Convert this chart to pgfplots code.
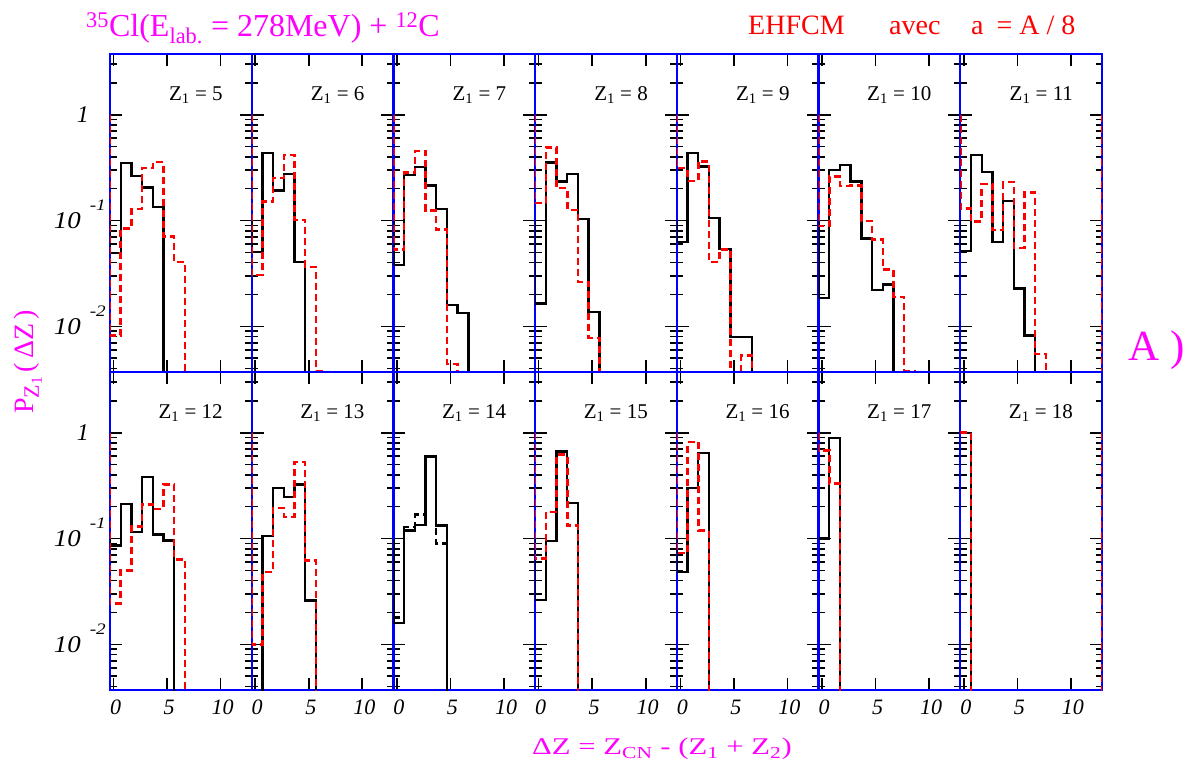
\documentclass[border=0pt]{standalone}
\usepackage{fontspec}
\setmainfont{Liberation Serif}
\usepackage{pgfplots}
\pgfplotsset{compat=1.18}
\definecolor{mag}{RGB}{255,0,255}
\definecolor{rd}{RGB}{255,0,0}
\definecolor{bl}{RGB}{0,0,255}
\newcommand\tf{\fontsize{21}{21}\selectfont}
\newcommand\lf{\fontsize{24}{24}\selectfont}
\newcommand\ex[1]{\makebox[53pt][r]{\scalebox{1.12}[1]{\textit{10}}\hspace{9pt}\raisebox{18pt}{\fontsize{16}{16}\selectfont\scalebox{1.2}[1]{\textit{#1}}}}}
\newcommand\one{\makebox[53pt][l]{\hspace{24pt}\textit{1}}}
\pgfplotsset{
  mypanel/.style={
    scale only axis, width=141.714pt, height=318pt,
    anchor=south west,
    xmin=-0.33, xmax=12.91, ymin=0.0037, ymax=3.75,
    xtick={0,5,10}, ytick={0.01,0.1,1},
    minor ytick={0.004,0.005,0.006,0.007,0.008,0.009,0.02,0.03,0.04,0.05,0.06,0.07,0.08,0.09,0.2,0.3,0.4,0.5,0.6,0.7,0.8,0.9,2,3},
    xticklabels={}, yticklabels={},
    tick align=inside, major tick length=12pt, minor tick length=6.5pt,
    tick style={black, line width=1.6pt},
    axis line style={bl, line width=2.4pt},
    yticklabel style={font=\lf, anchor=base east, inner sep=0pt, xshift=-4pt, yshift=-8pt},
    xticklabel style={font=\fontsize{22}{22}\selectfont\itshape, anchor=north, inner sep=0pt, xshift=2pt, yshift=-10pt},
  },
  leftcol/.style={yticklabels={\ex{-2},\ex{-1},\one}},
  botrow/.style={xticklabels={0,5,10}},
  blk/.style={black, line width=2.4pt, const plot},
  rdd/.style={rd, line width=2.5pt, dash pattern=on 7pt off 4pt, const plot},
}
\newcommand\zl[1]{\node[anchor=east, font=\tf] at (rel axis cs:0.82,0.87) {Z\textsubscript{1} = #1};}
\begin{document}
\begin{tikzpicture}
\useasboundingbox (0,0) rectangle (1194pt,768pt);
% ---------------- top row ----------------
\begin{semilogyaxis}[mypanel, leftcol, at={(110pt,396pt)}]
\addplot[blk] coordinates {(-0.33,0.1) (-0.33,0.049) (0.67,0.348) (1.67,0.264) (2.67,0.205) (3.67,0.135) (4.67,1e-4)};
\addplot[rdd] coordinates {(-0.33,1) (-0.33,0.0082) (0.67,0.084) (1.67,0.128) (2.67,0.312) (3.67,0.356) (4.67,0.0703) (5.67,0.0407) (6.67,1e-4)};
\zl{5}
\end{semilogyaxis}
\begin{semilogyaxis}[mypanel, at={(251.714pt,396pt)}]
\addplot[blk] coordinates {(-0.33,0.1) (-0.33,0.0507) (0.67,0.433) (1.67,0.192) (2.67,0.276) (3.67,0.0407) (4.67,1e-4)};
\addplot[rdd] coordinates {(-0.33,1) (-0.33,0.0304) (0.67,0.151) (1.67,0.251) (2.67,0.418) (3.67,0.101) (4.67,0.0365) (5.67,0.0038) (6.67,1e-4)};
\zl{6}
\end{semilogyaxis}
\begin{semilogyaxis}[mypanel, at={(393.429pt,396pt)}]
\addplot[blk] coordinates {(-0.33,0.1) (-0.33,0.0379) (0.67,0.270) (1.67,0.321) (2.67,0.214) (3.67,0.128) (4.67,0.0158) (5.67,0.0134) (6.67,1e-4)};
\addplot[rdd] coordinates {(-0.33,1) (-0.33,0.0533) (0.67,0.284) (1.67,0.456) (2.67,0.124) (3.67,0.0824) (4.67,0.0044) (5.67,1e-4)};
\zl{7}
\end{semilogyaxis}
\begin{semilogyaxis}[mypanel, at={(535.143pt,396pt)}]
\addplot[blk] coordinates {(-0.33,0.1) (-0.33,0.0164) (0.67,0.353) (1.67,0.233) (2.67,0.276) (3.67,0.103) (4.67,0.0137) (5.67,1e-4)};
\addplot[rdd] coordinates {(-0.33,1) (-0.33,0.146) (0.67,0.490) (1.67,0.202) (2.67,0.126) (3.67,0.0263) (4.67,0.00775) (5.67,1e-4)};
\zl{8}
\end{semilogyaxis}
\begin{semilogyaxis}[mypanel, at={(676.857pt,396pt)}]
\addplot[blk] coordinates {(-0.33,0.1) (-0.33,0.063) (0.67,0.433) (1.67,0.324) (2.67,0.105) (3.67,0.0537) (4.67,0.0079) (5.67,0.0079) (6.67,1e-4)};
\addplot[rdd] coordinates {(-0.33,1) (-0.33,0.312) (0.67,0.237) (1.67,0.361) (2.67,0.0407) (3.67,0.0533) (4.67,0.0037) (5.67,0.0053) (6.67,1e-4)};
\zl{9}
\end{semilogyaxis}
\begin{semilogyaxis}[mypanel, at={(818.571pt,396pt)}]
\addplot[blk] coordinates {(-0.33,0.1) (-0.33,0.0186) (0.67,0.301) (1.67,0.336) (2.67,0.233) (3.67,0.0678) (4.67,0.0219) (5.67,0.0248) (6.67,1e-4)};
\addplot[rdd] coordinates {(-0.33,1) (-0.33,0.0887) (0.67,0.260) (1.67,0.212) (2.67,0.214) (3.67,0.0989) (4.67,0.0663) (5.67,0.0344) (6.67,0.019) (7.67,0.0038) (8.67,1e-4)};
\zl{10}
\end{semilogyaxis}
\begin{semilogyaxis}[mypanel, at={(960.286pt,396pt)}]
\addplot[blk] coordinates {(-0.33,0.1) (-0.33,0.0514) (0.67,0.418) (1.67,0.286) (2.67,0.063) (3.67,0.153) (4.67,0.0228) (5.67,0.0082) (6.67,1e-4)};
\addplot[rdd] coordinates {(-0.33,1) (-0.33,0.130) (0.67,0.0975) (1.67,0.222) (2.67,0.0813) (3.67,0.230) (4.67,0.0552) (5.67,0.184) (6.67,0.0055) (7.67,1e-4)};
\addplot[rd, line width=2.5pt, dash pattern=on 7pt off 4pt] coordinates {(12.91,1) (12.91,1e-4)};
\zl{11}
\end{semilogyaxis}
% ---------------- bottom row ----------------
\begin{semilogyaxis}[mypanel, leftcol, botrow, at={(110pt,78pt)}]
\addplot[blk] coordinates {(-0.33,0.1) (-0.33,0.0862) (0.67,0.213) (1.67,0.115) (2.67,0.381) (3.67,0.109) (4.67,0.0961) (5.67,1e-4)};
\addplot[rdd] coordinates {(-0.33,1) (-0.33,0.0242) (0.67,0.050) (1.67,0.130) (2.67,0.210) (3.67,0.191) (4.67,0.325) (5.67,0.063) (6.67,1e-4)};
\zl{12}
\end{semilogyaxis}
\begin{semilogyaxis}[mypanel, botrow, at={(251.714pt,78pt)}]
\addplot[blk] coordinates {(-0.33,1e-4) (0.67,0.1056) (1.67,0.302) (2.67,0.247) (3.67,0.323) (4.67,0.026) (5.67,1e-4)};
\addplot[rdd] coordinates {(-0.33,1) (-0.33,0.01) (0.67,0.0483) (1.67,0.194) (2.67,0.160) (3.67,0.528) (4.67,0.0622) (5.67,1e-4)};
\zl{13}
\end{semilogyaxis}
\begin{semilogyaxis}[mypanel, botrow, at={(393.429pt,78pt)}]
\addplot[blk] coordinates {(-0.33,0.1) (-0.33,0.016) (0.67,0.119) (1.67,0.135) (2.67,0.598) (3.67,0.133) (4.67,1e-4)};
\addplot[black, line width=2.5pt, dash pattern=on 7pt off 4pt, const plot] coordinates {(-0.33,0.018) (0.67,0.128) (1.67,0.169) (2.67,0.598) (3.67,0.0893) (4.67,1e-4)};
\zl{14}
\end{semilogyaxis}
\begin{semilogyaxis}[mypanel, botrow, at={(535.143pt,78pt)}]
\addplot[blk] coordinates {(-0.33,0.1) (-0.33,0.0264) (0.67,0.0947) (1.67,0.667) (2.67,0.217) (3.67,1e-4)};
\addplot[rdd] coordinates {(-0.33,1) (-0.33,0.0645) (0.67,0.178) (1.67,0.620) (2.67,0.133) (3.67,1e-4)};
\zl{15}
\end{semilogyaxis}
\begin{semilogyaxis}[mypanel, botrow, at={(676.857pt,78pt)}]
\addplot[blk] coordinates {(-0.33,0.1) (-0.33,0.0482) (0.67,0.302) (1.67,0.643) (2.67,1e-4)};
\addplot[rdd] coordinates {(-0.33,1) (-0.33,0.073) (0.67,0.816) (1.67,0.119) (2.67,1e-4)};
\zl{16}
\end{semilogyaxis}
\begin{semilogyaxis}[mypanel, botrow, at={(818.571pt,78pt)}]
\addplot[blk] coordinates {(-0.33,0.1) (0.67,0.890) (1.67,1e-4)};
\addplot[rdd] coordinates {(-0.33,1) (-0.33,0.681) (0.67,0.330) (1.67,1e-4)};
\zl{17}
\end{semilogyaxis}
\begin{semilogyaxis}[mypanel, botrow, at={(960.286pt,78pt)}]
\addplot[blk] coordinates {(-0.33,1) (0.67,1e-4)};
\addplot[rdd] coordinates {(-0.33,1) (0.67,1e-4)};
\addplot[rd, line width=2.5pt, dash pattern=on 7pt off 4pt] coordinates {(12.91,1) (12.91,1e-4)};
\zl{18}
\end{semilogyaxis}
% ---------------- texts ----------------
\node[anchor=base west, text=mag, font=\fontsize{32}{32}\selectfont, inner sep=0pt] at (86pt,731pt) {\textsuperscript{35}Cl(E\textsubscript{lab.} = 278MeV) + \textsuperscript{12}C};
\node[anchor=base west, text=rd, font=\fontsize{28}{28}\selectfont, inner sep=0pt] at (748pt,733pt) {EHFCM};
\node[anchor=base west, text=rd, font=\fontsize{28}{28}\selectfont, inner sep=0pt] at (889pt,733pt) {avec};
\node[anchor=base west, text=rd, font=\fontsize{28}{28}\selectfont, inner sep=0pt] at (971pt,733pt) {a\hspace{13pt}= A / 8};
\node[anchor=base west, text=mag, font=\fontsize{43}{43}\selectfont, inner sep=0pt] at (1128pt,407pt) {A )};
\node[anchor=base, rotate=90, text=mag, font=\fontsize{28}{28}\selectfont, inner sep=0pt] at (33pt,406pt) {P\textsubscript{\fontsize{22}{22}\selectfont Z\textsubscript{1}}\hspace{4pt}(\hspace{4pt}ΔZ\hspace{4pt})};
\node[anchor=base, text=mag, font=\fontsize{24}{24}\selectfont, inner sep=0pt] at (662pt,13pt) {\scalebox{1.28}[1]{ΔZ = Z\textsubscript{CN} - (Z\textsubscript{1} + Z\textsubscript{2})}};
\end{tikzpicture}
\end{document}
